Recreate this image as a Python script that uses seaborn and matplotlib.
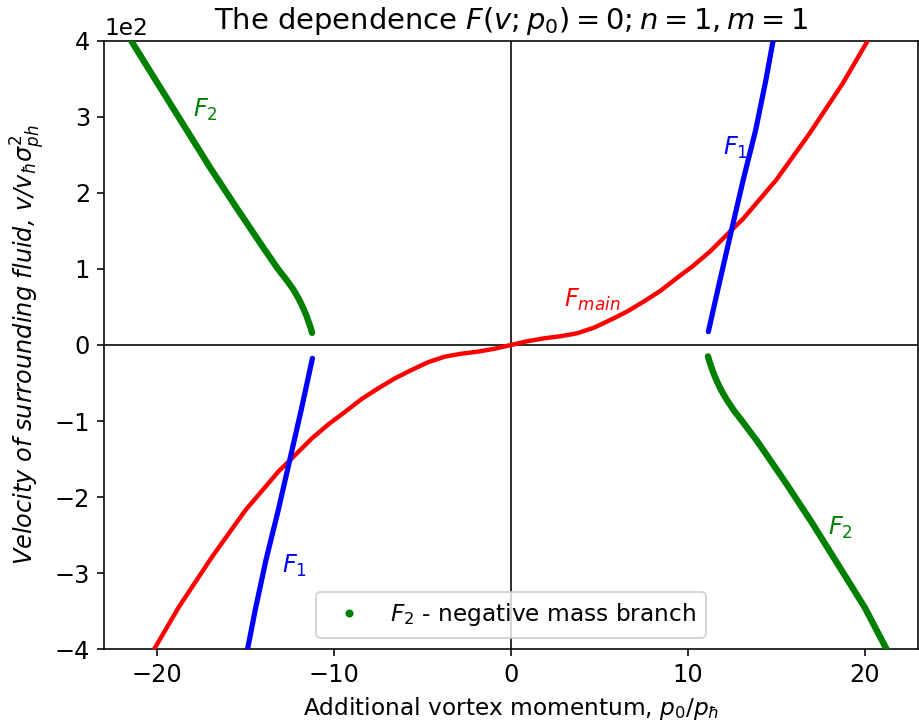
import seaborn as sns
import matplotlib.pyplot as plt
from matplotlib.lines import Line2D

# F_main branch (red), momentum p0/p_hbar vs velocity (raw units, shown as 1e2)
main_p = [-20.17, -18.76, -16.88, -15.0, -13.13, -12.47, -11.26, -10.3, -9.38, -8.44,
          -7.5, -6.57, -5.63, -4.69, -3.75, -2.81, -1.88, -0.94, 0.0,
          0.94, 1.88, 2.81, 3.75, 4.69, 5.63, 6.57, 7.5, 8.44, 9.38,
          10.3, 11.26, 12.47, 13.13, 15.0, 16.88, 18.76, 20.17]
main_v = [-400, -344, -278, -217, -166, -151, -123, -104, -88, -71,
          -57, -44, -33, -22.7, -15.4, -11.5, -8.8, -5.0, 0,
          5.0, 8.8, 11.5, 15.4, 22.7, 33, 44, 57, 71, 88,
          104, 123, 151, 166, 217, 278, 344, 400]

# F_1 branches (blue)
f1_right_p = [11.16, 11.82, 12.47, 13.13, 13.84, 14.41, 14.86]
f1_right_v = [17.5, 85.5, 151, 217, 283, 348, 405]
f1_left_p = [-11.22, -11.85, -12.5, -13.15, -13.85, -14.45, -14.93]
f1_left_v = [-17.5, -85, -151, -217, -283, -348, -405]

# F_2 branches (green, negative mass)
f2_left_p = [-21.6, -20.0, -18.5, -17.0, -15.5, -14.0, -13.2, -12.7, -12.3, -12.0,
             -11.75, -11.55, -11.4, -11.3, -11.24]
f2_left_v = [405, 345, 289, 233, 180, 128, 101, 86, 73, 61, 49, 38, 28, 21, 16]
f2_right_p = [11.14, 11.2, 11.3, 11.45, 11.65, 11.9, 12.2, 12.6, 13.1, 14.0,
              15.5, 17.0, 18.5, 20.0, 21.35]
f2_right_v = [-15, -20, -27, -37, -48, -60, -72, -86, -101, -129,
              -180, -233, -289, -345, -405]

plt.rcParams["font.size"] = 11.6

fig = plt.figure(figsize=(919 / 144, 724 / 144), dpi=144)
ax = fig.add_axes([0.1132, 0.1032, 0.8855, 0.8406])

ax.axhline(0, color="black", lw=0.8, zorder=1)
ax.axvline(0, color="black", lw=0.8, zorder=1)

sns.lineplot(x=main_p, y=main_v, sort=False, color="red", linewidth=2.2, ax=ax, zorder=3)
sns.lineplot(x=f1_right_p, y=f1_right_v, sort=False, color="blue", linewidth=2.6,
             solid_capstyle="round", ax=ax, zorder=4)
sns.lineplot(x=f1_left_p, y=f1_left_v, sort=False, color="blue", linewidth=2.6,
             solid_capstyle="round", ax=ax, zorder=4)
sns.lineplot(x=f2_left_p, y=f2_left_v, sort=False, color="green", linewidth=3.2,
             solid_capstyle="round", ax=ax, zorder=4)
sns.lineplot(x=f2_right_p, y=f2_right_v, sort=False, color="green", linewidth=3.2,
             solid_capstyle="round", ax=ax, zorder=4)

# curve labels
ax.text(2.98, 50, r"$F_{main}$", color="red", fontsize=12)
ax.text(12.0, 250, r"$F_1$", color="blue", fontsize=12)
ax.text(-12.96, -300, r"$F_1$", color="blue", fontsize=12)
ax.text(-17.95, 300, r"$F_2$", color="green", fontsize=12)
ax.text(17.93, -250, r"$F_2$", color="green", fontsize=12)

ax.set_xlim(-23, 23)
ax.set_ylim(-400, 400)
ax.ticklabel_format(axis="y", style="sci", scilimits=(2, 2))
ax.tick_params(labelsize=12)

ax.set_title(r"The dependence $F(v;p_0)=0; n=1, m=1$", fontsize=14.5)
ax.set_xlabel(r"Additional vortex momentum, $p_0/p_\hbar$")
ax.set_ylabel(r"Velocity of surrounding fluid, v/v$_\hbar\sigma_{ph}^2$", fontstyle="italic",
              fontsize=12)

handle = Line2D([], [], marker="o", linestyle="none", color="green", markersize=3)
ax.legend(handles=[handle], labels=[r"$F_2$ - negative mass branch"], loc="lower center")

fig.savefig("out.png", dpi=144)
